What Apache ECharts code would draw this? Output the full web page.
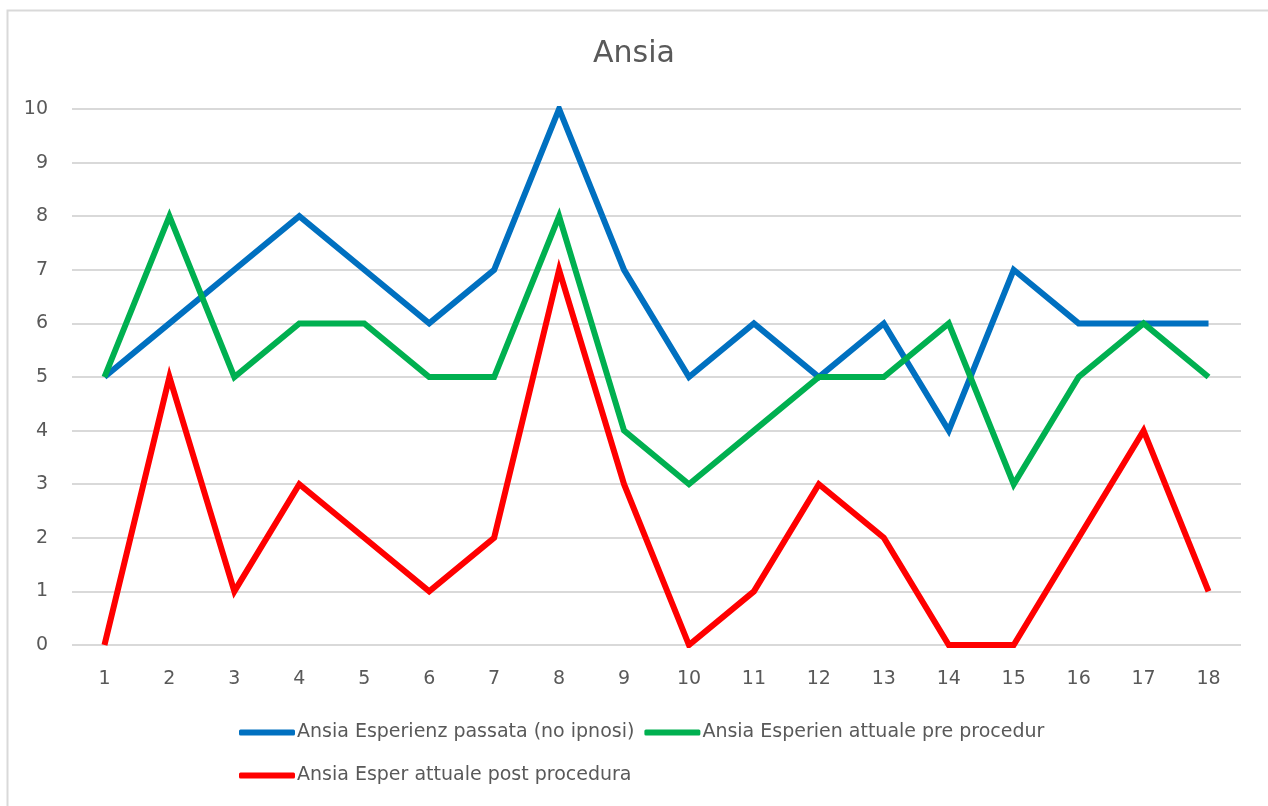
<!DOCTYPE html>
<html>
<head>
<meta charset="utf-8">
<script src="https://cdn.jsdelivr.net/npm/echarts@6/dist/echarts.min.js"></script>
<style>
	html, body { margin: 0; padding: 0; background: #fff; }
	#chart { width: 1268px; height: 806px; }
</style>
</head>
<body>
<div id="chart"></div>
<script>
// categorie asse x
const categories = ["1","2","3","4","5","6","7","8","9","10","11","12","13","14","15","16","17","18"];
const nomiSerie = [
	"Ansia Esperienz passata (no ipnosi)",
	"Ansia Esperien attuale pre procedur",
	"Ansia Esper attuale post procedura"
];
const passata = [5,6,7,8,7,6,7,10,7,5,6,5,6,4,7,6,6,6];
const prePro = [5,8,5,6,6,5,5,8,4,3,4,5,5,6,3,5,6,5];
const postPro = [0,5,1,3,2,1,2,7,3,0,1,3,2,0,0,2,4,1];
const colori = ["#0070c0", "#00b050", "#ff0000"];

const testo = "#595959";
const font = "DejaVu Sans";

const chart = echarts.init(document.getElementById("chart"));

function serie(nome, dati, colore) {
	return {
		name: nome,
		type: "line",
		data: dati,
		symbol: "none",
		lineStyle: { width: 6, color: colore, join: "miter", cap: "butt" },
		itemStyle: { color: colore },
		emphasis: { disabled: true }
	};
}

const legendaBase = {
	orient: "horizontal",
	icon: "roundRect",
	itemWidth: 56,
	itemHeight: 6,
	itemGap: 10,
	padding: 0,
	textStyle: { color: testo, fontSize: 19, fontFamily: font, padding: [0, 0, 0, -3] }
};

chart.setOption({
	animation: false,
	backgroundColor: "#fff",
	graphic: [{
		type: "rect",
		shape: { x: 7.5, y: 10.5, width: 1280, height: 820 },
		style: { fill: "none", stroke: "#d9d9d9", lineWidth: 2 },
		silent: true
	}],
	title: {
		text: "Ansia",
		left: "center",
		top: 34,
		textStyle: { color: testo, fontSize: 30, fontWeight: "normal", fontFamily: font }
	},
	legend: [
		Object.assign({}, legendaBase, { data: [nomiSerie[0], nomiSerie[1]], left: 239, top: 723 }),
		Object.assign({}, legendaBase, { data: [nomiSerie[2]], left: 239, top: 766 })
	],
	grid: { left: 72, right: 27, top: 109, bottom: 161 },
	xAxis: {
		type: "category",
		data: categories,
		boundaryGap: true,
		axisLine: { show: false },
		axisTick: { show: false },
		axisLabel: { color: testo, fontSize: 19, fontFamily: font, margin: 25 }
	},
	yAxis: {
		type: "value",
		min: 0,
		max: 10,
		interval: 1,
		axisLine: { show: false },
		axisTick: { show: false },
		axisLabel: { color: testo, fontSize: 19, fontFamily: font, margin: 24 },
		splitLine: { lineStyle: { color: "#d9d9d9", width: 2 } }
	},
	series: [
		serie(nomiSerie[0], passata, colori[0]),
		serie(nomiSerie[1], prePro, colori[1]),
		serie(nomiSerie[2], postPro, colori[2])
	]
});
</script>
</body>
</html>
